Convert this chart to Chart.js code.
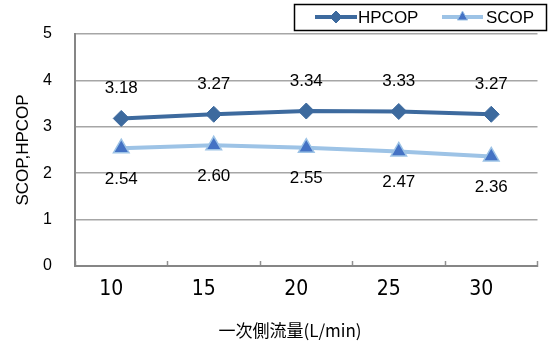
<!DOCTYPE html>
<html>
<head>
<meta charset="utf-8">
<script src="https://cdn.jsdelivr.net/npm/chart.js@4"></script>
<style>
  html, body { margin: 0; padding: 0; background: #fff; }
  #wrap { width: 548px; height: 345px; }
</style>
</head>
<body>
<div id="wrap"><canvas id="myChart" width="548" height="345"></canvas></div>
<script>
const flowLabels = ["10", "15", "20", "25", "30"]
const hpcop = [3.18, 3.27, 3.34, 3.33, 3.27]
const scop = [2.54, 2.60, 2.55, 2.47, 2.36]
const seriesNames = ["HPCOP", "SCOP"]
const yTicks = [0, 1, 2, 3, 4, 5]

const darkBlue = '#3d6a9e'
const lightBlue = '#9dc3e6'
const triBlue = '#4472c4'
const numFont = '"Liberation Sans", Arial, sans-serif'

// value labels above HPCOP, below SCOP
const valueLabels = {
  id: 'valueLabels',
  afterDatasetsDraw(chart) {
    const ctx = chart.ctx
    ctx.save()
    ctx.font = '17px ' + numFont
    ctx.fillStyle = '#000'
    ctx.textAlign = 'center'
    ctx.textBaseline = 'middle'
    chart.data.datasets.forEach((ds, i) => {
      const shift = i === 0 ? -30 : 31
      chart.getDatasetMeta(i).data.forEach((pt, j) => {
        ctx.fillText(ds.data[j].toFixed(2), pt.x, pt.y + shift)
      })
    })
    ctx.restore()
  }
}

// boxed legend with line + small marker, and x axis title
const extras = {
  id: 'extras',
  afterDraw(chart) {
    const ctx = chart.ctx
    ctx.save()
    ctx.fillStyle = '#fff'
    ctx.fillRect(294, 4, 253, 27)
    ctx.strokeStyle = '#000'
    ctx.lineWidth = 1.5
    ctx.strokeRect(294.5, 4.5, 252, 26)

    const items = [
      {x0: 315, x1: 357, tx: 358, r: 6, ds: chart.data.datasets[0]},
      {x0: 442, x1: 483, tx: 486, r: 6, ds: chart.data.datasets[1]}
    ]
    items.forEach(it => {
      const y = 17
      ctx.strokeStyle = it.ds.borderColor
      ctx.lineWidth = 4
      ctx.beginPath()
      ctx.moveTo(it.x0, y)
      ctx.lineTo(it.x1, y)
      ctx.stroke()
      ctx.fillStyle = it.ds.pointBackgroundColor
      ctx.strokeStyle = it.ds.pointBorderColor
      ctx.lineWidth = 1
      Chart.helpers.drawPoint(ctx, {
        pointStyle: it.ds.pointStyle,
        radius: it.r,
        borderWidth: 1,
        rotation: 0
      }, (it.x0 + it.x1) / 2, y)
      ctx.fillStyle = '#000'
      ctx.font = '17px ' + numFont
      ctx.textAlign = 'left'
      ctx.textBaseline = 'middle'
      ctx.fillText(it.ds.label, it.tx, y + 1)
    })

    ctx.fillStyle = '#000'
    ctx.font = '17px "Noto Sans CJK JP", sans-serif'
    ctx.textAlign = 'center'
    ctx.textBaseline = 'middle'
    ctx.fillText('一次側流量(L/min)', 290, 331)
    ctx.restore()
  }
}

const ctx = document.getElementById('myChart').getContext('2d')

const myChart = new Chart(ctx, {
  type: 'line',
  data: {
    labels: flowLabels,
    datasets: [{
      label: seriesNames[0],
      data: hpcop,
      borderColor: darkBlue,
      borderWidth: 4,
      pointStyle: 'rectRot',
      pointRadius: 8,
      pointBackgroundColor: darkBlue,
      pointBorderColor: darkBlue,
      pointBorderWidth: 1
    }, {
      label: seriesNames[1],
      data: scop,
      borderColor: lightBlue,
      borderWidth: 4,
      pointStyle: 'triangle',
      pointRadius: 9,
      pointBackgroundColor: triBlue,
      pointBorderColor: lightBlue,
      pointBorderWidth: 1.5
    }]
  },
  options: {
    responsive: false,
    animation: false,
    layout: { padding: { top: 34, right: 0, bottom: 0, left: 0 } },
    plugins: {
      legend: { display: false },
      tooltip: { enabled: false }
    },
    scales: {
      x: {
        offset: true,
        afterFit: (s) => { s.height = 79 },
        grid: {
          offset: true,
          drawOnChartArea: false,
          drawTicks: true,
          tickLength: -5,
          tickColor: '#909090',
          tickWidth: 1.5
        },
        border: { color: '#868686', width: 2 },
        ticks: {
          color: '#000',
          padding: 16,
          labelOffset: -10,
          font: { family: '"Liberation Sans Narrow", "DejaVu Sans Condensed", sans-serif', size: 21 }
        }
      },
      y: {
        min: yTicks[0],
        max: yTicks[yTicks.length - 1],
        afterFit: (s) => { s.width = 75 },
        afterBuildTicks: (s) => { s.ticks = yTicks.map(v => ({value: v})) },
        grid: { color: '#a6a6a6', lineWidth: 1.5, drawTicks: false },
        border: { color: '#868686', width: 2 },
        ticks: {
          color: '#000',
          padding: 23,
          font: { family: numFont, size: 16 }
        },
        title: {
          display: true,
          text: 'SCOP,HPCOP',
          color: '#000',
          padding: { top: 13 },
          font: { family: numFont, size: 17 }
        }
      }
    }
  },
  plugins: [valueLabels, extras]
})
</script>
</body>
</html>
